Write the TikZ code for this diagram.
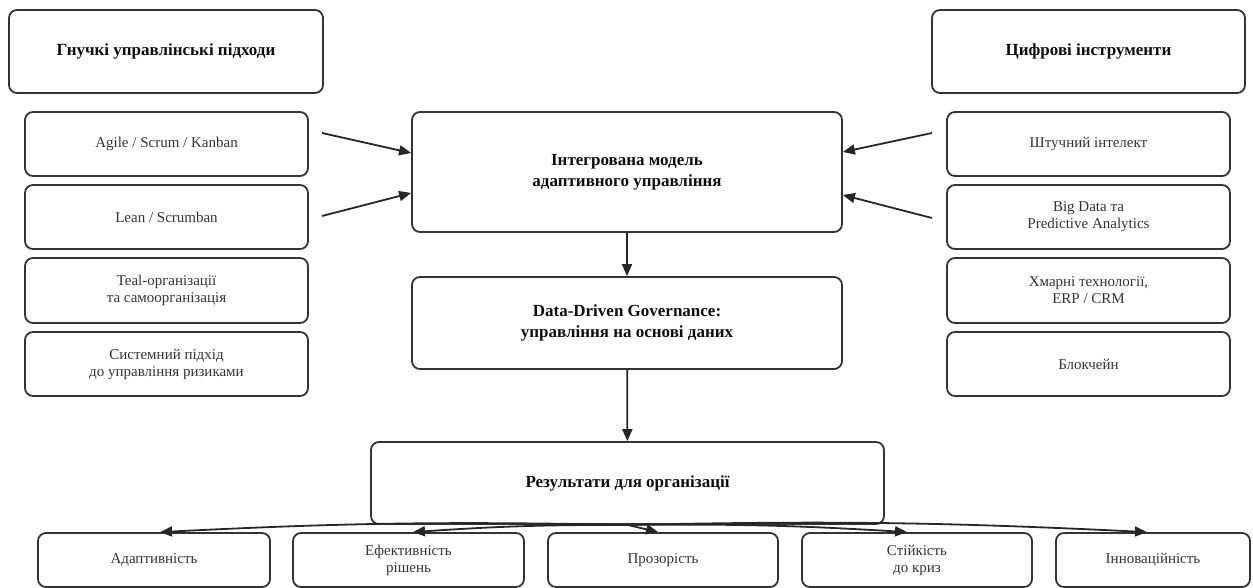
\documentclass[tikz,border=0pt]{standalone}
\usepackage{fontspec}
\setmainfont{Liberation Serif}
\usetikzlibrary{arrows.meta}
\newcommand{\fsz}{\fontsize{15}{17}\selectfont}
\newcommand{\fbz}{\fontsize{17}{21}\selectfont\bfseries}
\begin{document}
\begin{tikzpicture}[x=1pt,y=-1pt,
  box/.style={draw=black!80, line width=1.8pt, rounded corners=8pt, align=center,
    inner sep=0pt, font=\fsz, text=black!80},
  hdr/.style={box, font=\fbz, text=black!95},
  arr/.style={draw=black!85, line width=1.8pt, -{Triangle[length=12pt,width=10pt]}}]
\useasboundingbox (0,0) rectangle (1253,588);
% left column
\node[hdr, minimum width=314pt, minimum height=83pt] (hl) at (166,51.5) {Гнучкі управлінські підходи};
\node[box, minimum width=283pt, minimum height=64pt] (a1) at (166.5,144) {Agile / Scrum / Kanban};
\node[box, minimum width=283pt, minimum height=64pt] (a2) at (166.5,217) {Lean / Scrumban};
\node[box, minimum width=283pt, minimum height=65pt] (a3) at (166.5,290.5) {Teal-організації\\та самоорганізація};
\node[box, minimum width=283pt, minimum height=64pt] (a4) at (166.5,364) {Системний підхід\\до управління ризиками};
% right column
\node[hdr, minimum width=313pt, minimum height=83pt] (hr) at (1088.5,51.5) {Цифрові інструменти};
\node[box, minimum width=283pt, minimum height=64pt] (d1) at (1088.5,144) {Штучний інтелект};
\node[box, minimum width=283pt, minimum height=64pt] (d2) at (1088.5,217) {Big Data та\\Predictive Analytics};
\node[box, minimum width=283pt, minimum height=65pt] (d3) at (1088.5,290.5) {Хмарні технології,\\ERP / CRM};
\node[box, minimum width=283pt, minimum height=64pt] (d4) at (1088.5,364) {Блокчейн};
% centre
\node[hdr, minimum width=430pt, minimum height=120pt] (C) at (627,172) {Інтегрована модель\\адаптивного управління};
\node[hdr, minimum width=430pt, minimum height=92pt] (D) at (627,323) {Data-Driven Governance:\\управління на основі даних};
\node[hdr, minimum width=513pt, minimum height=82pt] (R) at (627.5,483) {Результати для організації};
% bottom row
\node[box, minimum width=232pt, minimum height=54pt] (b1) at (154,560) {Адаптивність};
\node[box, minimum width=231pt, minimum height=54pt] (b2) at (408.5,560) {Ефективність\\рішень};
\node[box, minimum width=230pt, minimum height=54pt] (b3) at (663,560) {Прозорість};
\node[box, minimum width=230pt, minimum height=54pt] (b4) at (917,560) {Стійкість\\до криз};
\node[box, minimum width=194pt, minimum height=54pt] (b5) at (1153,560) {Інноваційність};
% free starts of side arrows
\coordinate (s1) at (322,133);
\coordinate (s2) at (322,216);
\coordinate (s3) at (932,133);
\coordinate (s4) at (932,218);
\draw[arr] (s1) -- ([yshift=19pt]C.west);
\draw[arr] (s2) -- ([yshift=-21pt]C.west);
\draw[arr] (s3) -- ([yshift=20pt]C.east);
\draw[arr] (s4) -- ([yshift=-23pt]C.east);
\draw[arr] (C) -- (D);
\draw[arr] (D) -- (R);
\draw[arr] (R.south) to[bend right=2] ([xshift=6pt]b1.north);
\draw[arr] (R.south) to[bend right=2] ([xshift=4.5pt]b2.north);
\draw[arr] (R.south) -- ([xshift=-5pt]b3.north);
\draw[arr] (R.south) to[bend left=2] ([xshift=-10pt]b4.north);
\draw[arr] (R.south) to[bend left=2] ([xshift=-6pt]b5.north);
\end{tikzpicture}
\end{document}
